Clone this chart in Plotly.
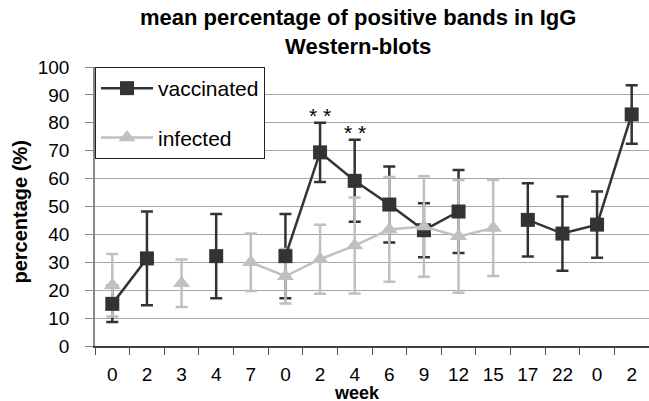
import plotly.graph_objects as go

weeks = ["0", "2", "3", "4", "7", "0", "2", "4", "6", "9", "12", "15", "17", "22", "0", "2"]
vacc_mean = [15.1, 31.4, None, 32.2, None, 32.2, 69.4, 59.2, 50.7, 41.5, 48.2, None, 45.2, 40.3, 43.5, 83.0]
vacc_err = [6.5, 16.8, None, 15.1, None, 15.1, 10.6, 14.7, 13.6, 9.7, 14.9, None, 13.1, 13.3, 11.9, 10.5]
inf_mean = [21.8, None, 22.5, None, 30.0, 25.0, 31.1, 36.0, 41.8, 42.8, 39.3, 42.3, None, None, None, None]
inf_err = [11.2, None, 8.5, None, 10.3, 9.8, 12.4, 17.2, 18.8, 18.0, 20.2, 17.2, None, None, None, None]
stars_x = [6, 7]
stars_y = [82.5, 76.5]
stars_text = ["* *", "* *"]

x = list(range(len(weeks)))
DARK = "#333333"
LIGHT = "#c0c0c0"
FONT = "Liberation Sans"

fig = go.Figure()
# error bars first (drawn beneath markers)
for mean, err, col in [(vacc_mean, vacc_err, DARK), (inf_mean, inf_err, LIGHT)]:
    fig.add_trace(go.Scatter(
        x=x, y=mean, mode="markers", showlegend=False, hoverinfo="skip",
        marker=dict(size=1, color=col),
        error_y=dict(type="data", array=err, visible=True, color=col, thickness=2.5, width=6),
    ))

fig.add_trace(go.Scatter(
    x=x, y=vacc_mean, mode="lines+markers", name="vaccinated", legendgroup="v",
    line=dict(color=DARK, width=2.5), connectgaps=False,
    marker=dict(symbol="square", size=14, color=DARK),
))
fig.add_trace(go.Scatter(
    x=x, y=inf_mean, mode="lines+markers", name="infected", legendgroup="i",
    line=dict(color=LIGHT, width=2.5), connectgaps=False,
    marker=dict(symbol="triangle-up", size=15, color=LIGHT),
))

for sx, sy, st in zip(stars_x, stars_y, stars_text):
    fig.add_annotation(x=sx, y=sy, text=st, showarrow=False,
                       font=dict(family=FONT, size=21, color="black"),
                       xanchor="center", yanchor="middle")

fig.add_annotation(xref="paper", yref="paper", x=0.4747, y=1, yshift=64,
                   text="<b>mean percentage of positive bands in IgG<br>Western-blots</b>",
                   showarrow=False, xanchor="center", yanchor="top",
                   font=dict(family=FONT, size=22, color="black"))
fig.add_annotation(xref="paper", yref="paper", x=0.473, y=0, yshift=-36,
                   text="<b>week</b>", showarrow=False, xanchor="center", yanchor="top",
                   borderpad=0,
                   font=dict(family=FONT, size=18, color="black"))
fig.add_annotation(xref="paper", yref="paper", x=0, y=0.5, xshift=-76, yshift=-6,
                   text="<b>percentage (%)</b>", textangle=-90, showarrow=False,
                   xanchor="center", yanchor="middle",
                   font=dict(family=FONT, size=20, color="black"))

fig.update_layout(
    width=649, height=401,
    margin=dict(l=95, r=0, t=67, b=55),
    paper_bgcolor="white", plot_bgcolor="white",
    font=dict(family=FONT, color="black"),
    showlegend=True,
    legend=dict(x=0, y=1, xanchor="left", yanchor="top", bgcolor="white",
                bordercolor="#222222", borderwidth=1, tracegroupgap=19,
                itemwidth=52, font=dict(family=FONT, size=21, color="black"),
                traceorder="grouped"),
)
fig.update_xaxes(
    range=[-0.5, 15.5], tickmode="array", tickvals=x, ticktext=weeks,
    ticks="", showgrid=False, zeroline=False,
    showline=True, linecolor="#404040", linewidth=1.5,
    ticklabelstandoff=10,
    tickfont=dict(family=FONT, size=19, color="black"),
    minor=dict(tickmode="linear", tick0=-0.5, dtick=1, ticks="outside", ticklen=7,
               tickcolor="#555555", tickwidth=1, showgrid=False),
)
fig.update_yaxes(
    range=[0, 100], dtick=10, ticks="outside", ticklen=8, tickcolor="#888888",
    showgrid=True, gridcolor="#a6a6a6", gridwidth=1.2, zeroline=False,
    showline=True, linecolor="#888888", linewidth=1.5,
    ticklabelstandoff=12,
    tickfont=dict(family=FONT, size=19, color="black"),
)

fig.write_html("out.html")
